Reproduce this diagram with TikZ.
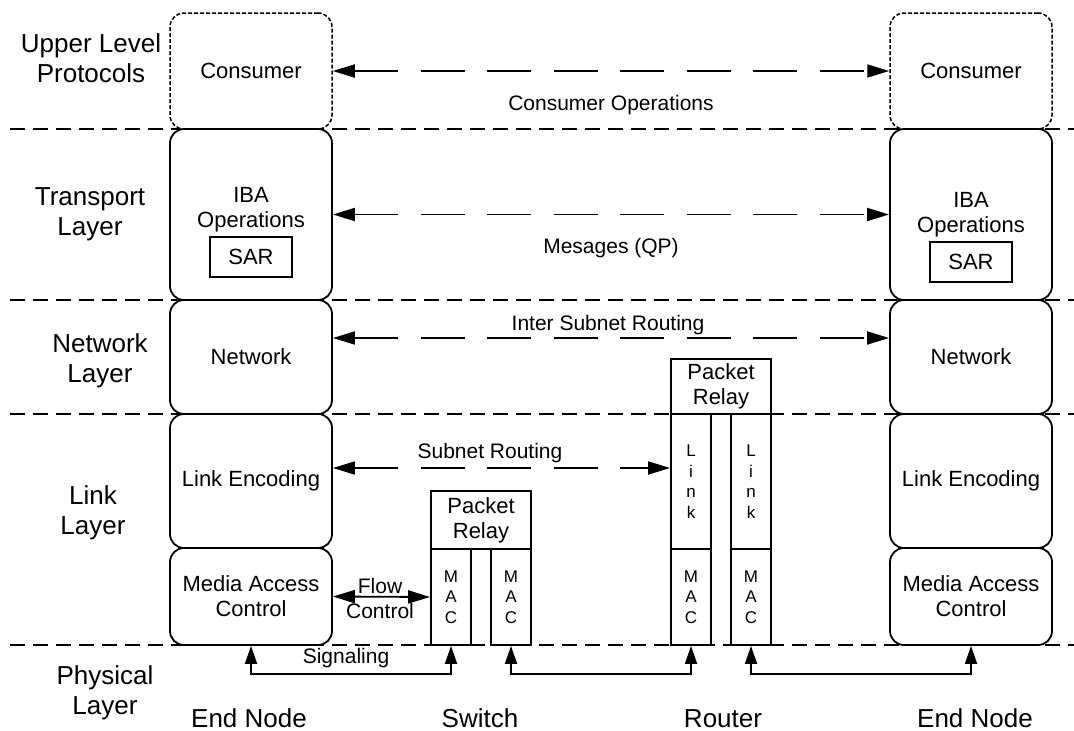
\documentclass[tikz,border=0pt]{standalone}
\usepackage{fontspec}
\setmainfont{Liberation Sans}
\usetikzlibrary{arrows.meta}
\begin{document}
\begin{tikzpicture}[x=1pt,y=-1pt,
  sep/.style={line width=1.8pt, dash pattern=on 15pt off 8pt},
  lay/.style={draw, line width=1.8pt, rounded corners=14pt, fill=white, minimum width=162pt, inner sep=0pt, align=center, font=\fontsize{22}{25}\selectfont},
  ulpbox/.style={lay, line width=1.5pt, dash pattern=on 4pt off 2pt},
  sq/.style={draw, line width=1.8pt, fill=white, inner sep=0pt, align=center, font=\fontsize{22}{25}\selectfont},
  col/.style={sq, minimum width=40pt, font=\fontsize{17}{20.5}\selectfont},
  sarbox/.style={sq, minimum width=82pt, minimum height=40pt},
  txt/.style={inner sep=0pt, align=center, font=\fontsize{22}{25}\selectfont},
  layerlbl/.style={align=center, font=\fontsize{26}{30}\selectfont, inner sep=0pt},
  devlbl/.style={anchor=base, font=\fontsize{26}{30}\selectfont, inner sep=0pt},
  albl/.style={anchor=base, font=\fontsize{21}{25}\selectfont, inner sep=0pt},
  flbl/.style={align=center, font=\fontsize{21}{25}\selectfont, inner sep=0pt},
  darr/.style={line width=1.8pt, {Triangle[length=22pt,width=13pt]}-{Triangle[length=22pt,width=13pt]}},
  longdash/.style={dash pattern=on 44pt off 22.5pt},
  varr/.style={line width=1.8pt, {Triangle[length=18pt,width=12pt]}-{Triangle[length=18pt,width=12pt]}}
]
\useasboundingbox (0,0) rectangle (1074,731);

% layer separators
\draw[sep] (10,129) -- (1074,129);
\draw[sep] (10,300) -- (1074,300);
\draw[sep] (10,414) -- (1074,414);
\draw[sep] (10,645) -- (1074,645);

% layer labels
\node[layerlbl] (ulp) at (91,58) {Upper Level\\Protocols};
\node[layerlbl] (tl) at (90,214) {Transport\\Layer};
\node[layerlbl] (nl) at (100,361) {Network\\Layer};
\node[layerlbl] (ll) at (93,513) {Link\\Layer};
\node[layerlbl] (pl) at (105,693) {Physical\\Layer};

% left end node
\node[ulpbox, minimum height=116pt] (consL) at (251,71) {Consumer};
\node[lay, minimum height=171pt] (transL) at (251,214.5) {};
\node[txt] (ibaL) at (251,210) {IBA\\Operations};
\node[sarbox] (sarL) at (251,257) {SAR};
\node[lay, minimum height=114pt] (netL) at (251,357) {Network};
\node[lay, minimum height=134pt] (linkL) at (251,481) {Link Encoding};
\node[lay, minimum height=97pt] (macL) at (251,596.5) {Media Access\\Control};

% right end node
\node[ulpbox, minimum height=116pt] (consR) at (971,71) {Consumer};
\node[lay, minimum height=171pt] (transR) at (971,214.5) {};
\node[txt] (ibaR) at (971,215) {IBA\\Operations};
\node[sarbox] (sarR) at (971,262) {SAR};
\node[lay, minimum height=114pt] (netR) at (971,357) {Network};
\node[lay, minimum height=134pt] (linkR) at (971,481) {Link Encoding};
\node[lay, minimum height=97pt] (macR) at (971,596.5) {Media Access\\Control};

% switch
\node[sq, minimum width=100pt, minimum height=58pt] (srelay) at (481,520) {Packet\\Relay};
\node[col, minimum height=96pt] (smac1) at (451,597) {M\\A\\C};
\node[col, minimum height=96pt] (smac2) at (511,597) {M\\A\\C};

% router
\node[sq, minimum width=100pt, minimum height=55pt] (rrelay) at (721,386.5) {Packet\\Relay};
\node[col, minimum height=135pt] (rlink1) at (691,481.5) {L\\i\\n\\k};
\node[col, minimum height=135pt] (rlink2) at (751,481.5) {L\\i\\n\\k};
\node[col, minimum height=96pt] (rmac1) at (691,597) {M\\A\\C};
\node[col, minimum height=96pt] (rmac2) at (751,597) {M\\A\\C};

% peer connectors
\draw[darr, longdash] (consL.east) -- (consR.west);
\draw[darr, longdash] (transL.east) -- (transR.west);
\draw[darr, longdash] ([yshift=19pt]netL.east) -- ([yshift=19pt]netR.west);
\draw[darr, longdash] ([yshift=13pt]linkL.east) -- ([yshift=13pt]linkL.east -| rlink1.west);
\draw[darr] (macL.east) -- (smac1.west);

% physical links
\draw[varr] (macL.south) -- ++(0,28) -| (smac1.south);
\draw[varr] (smac2.south) -- ++(0,28) -| (rmac1.south);
\draw[varr] (rmac2.south) -- ++(0,28) -| (macR.south);

% connector labels
\node[albl] (lco) at (611,110) {Consumer Operations};
\node[albl] (lmsg) at (611,253) {Mesages (QP)};
\node[albl] (lisr) at (608,330) {Inter Subnet Routing};
\node[albl] (lsr) at (490,458) {Subnet Routing};
\node[flbl] (lfc) at (380,598) {Flow\\Control};
\node[albl] (lsig) at (346,663) {Signaling};

% device labels
\node[devlbl] (dEnd1) at (249,727) {End Node};
\node[devlbl] (dSw) at (480,727) {Switch};
\node[devlbl] (dRt) at (723,727) {Router};
\node[devlbl] (dEnd2) at (975,727) {End Node};
\end{tikzpicture}
\end{document}
